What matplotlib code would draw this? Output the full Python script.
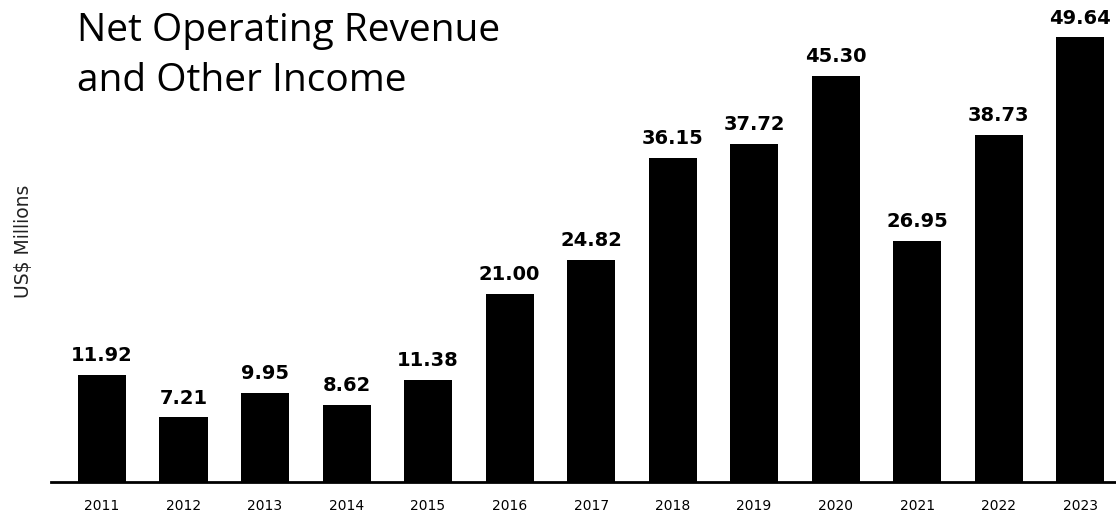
import matplotlib
matplotlib.use("Agg")
import matplotlib.pyplot as plt

years = ["2011", "2012", "2013", "2014", "2015", "2016", "2017",
         "2018", "2019", "2020", "2021", "2022", "2023"]
revenue = [11.92, 7.21, 9.95, 8.62, 11.38, 21.00, 24.82,
           36.15, 37.72, 45.30, 26.95, 38.73, 49.64]
title_lines = ["Net Operating Revenue", "and Other Income"]

plt.rcParams['font.family'] = ['DejaVu Sans']

fig = plt.figure(figsize=(11.16, 5.16), dpi=100)
# axes runs from the baseline at the bottom up to the top edge
ax = fig.add_axes([51 / 1116, 34 / 516, 1065 / 1116, 482 / 516])

x = range(len(years))
bars = ax.bar(x, revenue, width=0.59, color="black")

ax.set_xlim(-0.626, 12.44)
ax.set_ylim(0, 53.8)

for xi, v in zip(x, revenue):
    ax.annotate(f"{v:.2f}", (xi, v), xytext=(0, 7), textcoords="offset points",
                ha="center", va="bottom", fontsize=14, fontweight="bold")

ax.set_xticks(list(x))
ax.set_xticklabels(years, fontsize=10)
ax.tick_params(axis="x", length=0, pad=12)
ax.set_yticks([])

for s in ["top", "right", "left"]:
    ax.spines[s].set_visible(False)
ax.spines["bottom"].set_linewidth(2)

# two-line heading, placed by baseline
for i, line in enumerate(title_lines):
    fig.text(77 / 1116, 1 - (41 + 50 * i) / 516, line, family=["Open Sans", "DejaVu Sans"],
             fontsize=28, ha="left", va="baseline", color="black")
fig.text(24 / 1116, 1 - 241 / 516, "US$ Millions", rotation=90, fontsize=13.5,
         ha="center", va="center", color="#222222")

fig.savefig("out.png", dpi=100)
